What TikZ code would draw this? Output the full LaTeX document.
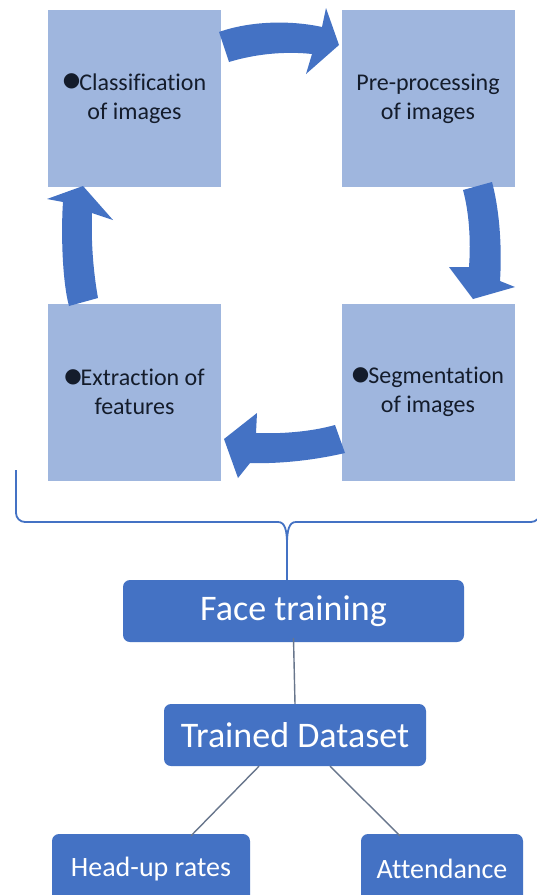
\documentclass[tikz,border=0pt]{standalone}
\usepackage{fontspec}
\setmainfont{Carlito}[Ligatures=NoCommon]
\newfontfamily\symfont{DejaVu Sans}
\usetikzlibrary{calc}

\definecolor{stepfill}{HTML}{9FB6DE}
\definecolor{deepblue}{HTML}{4472C4}
\definecolor{inktext}{HTML}{141C2B}
\definecolor{linkgray}{HTML}{68768C}

% raised round bullet in front of a label
\newcommand\dotmark{\raisebox{3.5pt}{\symfont\fontsize{20}{20}\selectfont ●}\kern-1pt}

\tikzset{
  stepbox/.style={rectangle, fill=stepfill, minimum width=173pt, minimum height=177pt,
    align=center, text=inktext, font=\fontsize{24}{29}\selectfont, inner sep=0pt},
  bigbox/.style={rectangle, rounded corners=7pt, fill=deepblue, text=white,
    font=\fontsize{36}{40}\selectfont, inner sep=0pt},
  smallbox/.style={rectangle, rounded corners=7pt, fill=deepblue, text=white,
    font=\fontsize{28}{32}\selectfont, inner sep=0pt},
  cyclearrow/.style={fill=deepblue},
  link/.style={draw=linkgray, line width=1.4pt},
  brace/.style={draw=deepblue, line width=1.8pt, line join=round}
}

\begin{document}
\begin{tikzpicture}[x=1pt, y=-1pt]
  \useasboundingbox (0,0) rectangle (537,895);
  \clip (0,0) rectangle (537,895);
  \fill[white] (0,0) rectangle (537,895);

  % the four processing steps
  \node[stepbox] (cls) at (134.5,98.5) {\dotmark Classification\\of images};
  \node[stepbox] (pre) at (428,98.5) {Pre-processing\\of images};
  \node[stepbox] (seg) at (428,392) {\dotmark Segmentation\\of images};
  \node[stepbox] (ext) at (134.5,392) {\dotmark Extraction of\\features};

  % curved block arrows of the cycle
  \fill[cyclearrow] (219,32) .. controls (250,21) and (290,20) .. (322,27)
    -- (326,8) -- (339,45) -- (306,74) -- (312,54)
    .. controls (285,51) and (255,54) .. (229,62) -- cycle;
  \fill[cyclearrow] (492,182) .. controls (500,212) and (502,250) .. (500,281)
    -- (515,287) -- (473,299) -- (449,267) -- (469,267)
    .. controls (471,240) and (469,212) .. (463,190) -- cycle;
  \fill[cyclearrow] (335,425) .. controls (310,432) and (280,434) .. (256,433)
    -- (257,413) -- (224,439) -- (238,478) -- (250,463)
    .. controls (280,464) and (315,460) .. (345,453) -- cycle;
  \fill[cyclearrow] (69,306) .. controls (62,280) and (61,230) .. (63,202)
    -- (47,199) -- (83,186) -- (113,220) -- (92,213)
    .. controls (91,240) and (93,270) .. (98,298) -- cycle;

  % result tree
  \node[bigbox, minimum width=341pt, minimum height=62pt] (face) at (293.5,611) {Face training};
  \node[bigbox, minimum width=262pt, minimum height=62pt] (trained) at (295,735) {Trained Dataset};
  \node[smallbox, minimum width=198pt, minimum height=70pt] (head) at (151,869) {Head-up rates};
  \node[smallbox, minimum width=162pt, minimum height=70pt] (att) at (442,869) {Attendance};

  % brace gathering the cycle
  \coordinate (bl) at (16,470);
  \coordinate (br) at (540,470);
  \coordinate (tip) at (287,545);
  \draw[brace, rounded corners=9pt] (bl) -- (16,522) -- (278,522);
  \draw[brace] (278,522) .. controls (285,522) and (287,530) .. (tip);
  \draw[brace] (296,522) .. controls (289,522) and (287,530) .. (tip);
  \draw[brace, rounded corners=9pt] (296,522) -- (540,522) -- (br);
  \draw[brace] (tip) -- (tip |- face.north);

  % links of the tree
  \draw[link] ([yshift=4pt]face.south) -- (trained.north);
  \draw[link] ([xshift=-36pt]trained.south) -- ([xshift=40pt,yshift=-2pt]head.north);
  \draw[link] ([xshift=35pt]trained.south) -- ([xshift=-42pt,yshift=-2pt]att.north);
\end{tikzpicture}
\end{document}
